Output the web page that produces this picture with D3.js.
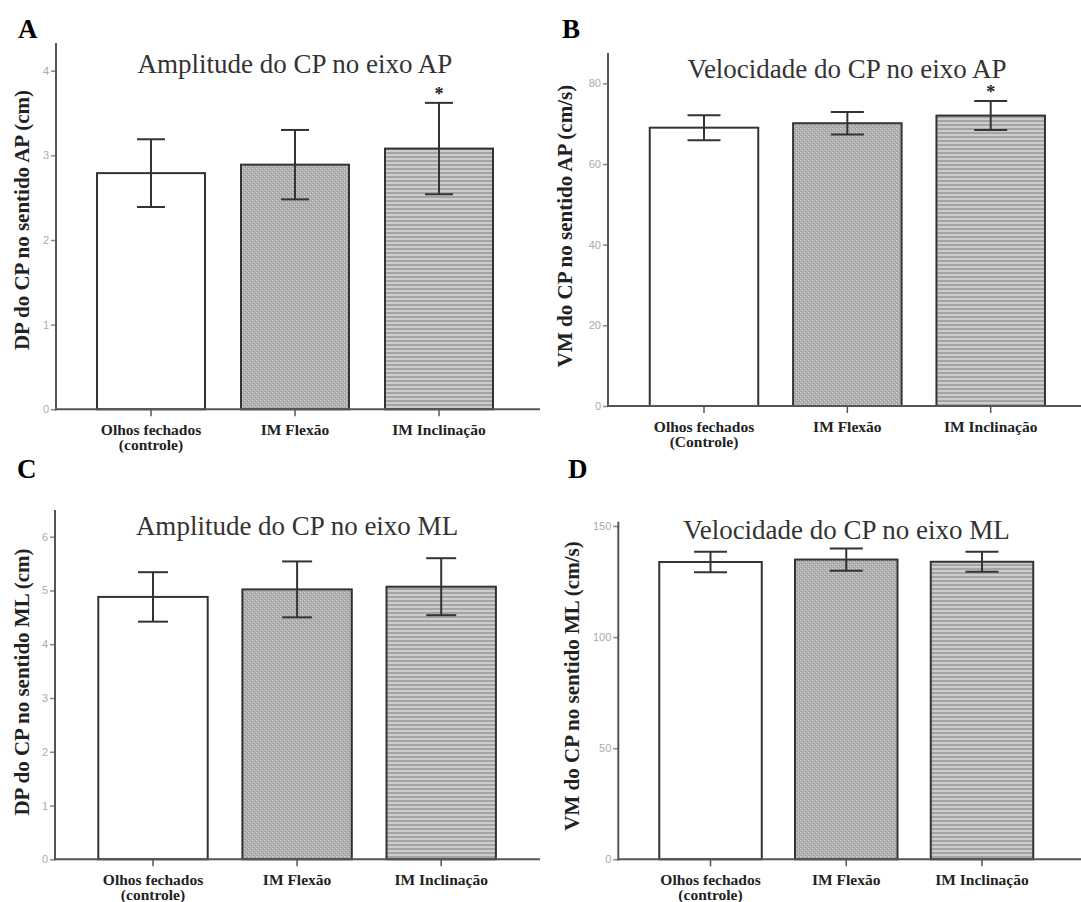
<!DOCTYPE html>
<html>
<head>
<meta charset="utf-8">
<script src="https://cdn.jsdelivr.net/npm/d3@7"></script>
<style>
  html, body { margin: 0; padding: 0; background: #fff; }
  svg { display: block; }
</style>
</head>
<body>
<svg id="fig" width="1081" height="902"></svg>
<script>
// Groups shown on every x axis
const groups = ["Olhos fechados", "IM Flexão", "IM Inclinação"];
const controlNoteA = "(controle)";
const controlNoteB = "(Controle)";

// A: amplitude AP (cm)
const ampAP = [2.79, 2.89, 3.08];
const ampAPsd = [0.40, 0.41, 0.54];
const ampAPticks = [0, 1, 2, 3, 4];
const ampAPsig = [false, false, true];

// B: velocity AP (cm/s)
const velAP = [69.0, 70.1, 72.0];
const velAPsd = [3.1, 2.8, 3.6];
const velAPticks = [0, 20, 40, 60, 80];
const velAPsig = [false, false, true];

// C: amplitude ML (cm)
const ampML = [4.88, 5.02, 5.07];
const ampMLsd = [0.46, 0.52, 0.53];
const ampMLticks = [0, 1, 2, 3, 4, 5, 6];
const ampMLsig = [false, false, false];

// D: velocity ML (cm/s)
const velML = [133.8, 134.9, 133.9];
const velMLsd = [4.6, 5.0, 4.5];
const velMLticks = [0, 50, 100, 150];
const velMLsig = [false, false, false];

const svg = d3.select("#fig");
const defs = svg.append("defs");

// fine dotted grey fill
const dots = defs.append("pattern").attr("id", "dots")
  .attr("patternUnits", "userSpaceOnUse").attr("width", 4).attr("height", 4);
dots.append("rect").attr("width", 4).attr("height", 4).attr("fill", "#b0b0b0");
dots.append("rect").attr("x", 0).attr("y", 0).attr("width", 1).attr("height", 1).attr("fill", "#d4d4d4");
dots.append("rect").attr("x", 2).attr("y", 2).attr("width", 1).attr("height", 1).attr("fill", "#d4d4d4");
dots.append("rect").attr("x", 1).attr("y", 3).attr("width", 1).attr("height", 1).attr("fill", "#949494");
dots.append("rect").attr("x", 3).attr("y", 1).attr("width", 1).attr("height", 1).attr("fill", "#949494");

// horizontal stripe fill
const stripes = defs.append("pattern").attr("id", "stripes")
  .attr("patternUnits", "userSpaceOnUse").attr("width", 8).attr("height", 4);
stripes.append("rect").attr("width", 8).attr("height", 4).attr("fill", "#cdcdcd");
stripes.append("rect").attr("y", 0).attr("width", 8).attr("height", 2).attr("fill", "#a4a4a4");

const fills = ["#ffffff", "url(#dots)", "url(#stripes)"];

const serif = "'Liberation Serif', 'Times New Roman', serif";

function drawPanel(p) {
  const g = svg.append("g");
  const n = groups.length;
  const pi = 1 - p.barW / p.step;
  const x = d3.scaleBand().domain(groups)
    .range([p.c0 - p.step / 2, p.c0 + p.step * (n - 0.5)])
    .paddingInner(pi).paddingOuter(pi / 2);
  const yMax = p.ticks[p.ticks.length - 1];
  const y = d3.scaleLinear().domain([0, yMax]).range([p.y0, p.yTop]);

  // panel letter
  g.append("text").attr("x", p.letterX).attr("y", p.letterY)
    .attr("font-family", serif).attr("font-weight", "bold")
    .attr("font-size", 27).attr("fill", "#000").text(p.letter);

  // title
  g.append("text").attr("x", p.titleX).attr("y", p.titleY)
    .attr("text-anchor", "middle").attr("font-family", serif)
    .attr("font-size", 27).attr("fill", "#333").text(p.title);

  // y axis
  const ya = g.append("g").attr("transform", `translate(${p.ax},0)`)
    .call(d3.axisLeft(y).tickValues(p.ticks).tickSize(5).tickPadding(2).tickFormat(d3.format("d")));
  ya.select(".domain").remove();
  ya.selectAll(".tick line").attr("stroke", "#888").attr("stroke-width", 1.5);
  ya.selectAll(".tick text").attr("fill", "#aaa").attr("font-family", "'Liberation Sans', Arial, sans-serif")
    .attr("font-size", 11);
  g.append("line").attr("x1", p.ax).attr("x2", p.ax).attr("y1", p.axTop).attr("y2", p.y0 + 1)
    .attr("stroke", "#555").attr("stroke-width", 2);

  // bars
  const data = p.values.map((v, i) => ({ k: groups[i], v, sd: p.sd[i], sig: p.sig[i], i }));
  g.selectAll("rect.bar").data(data).join("rect").attr("class", "bar")
    .attr("x", d => x(d.k)).attr("width", x.bandwidth())
    .attr("y", d => y(d.v)).attr("height", d => y(0) - y(d.v))
    .attr("fill", d => fills[d.i]).attr("stroke", "#333").attr("stroke-width", 2);

  // error bars
  const eb = g.selectAll("g.err").data(data).join("g").attr("class", "err")
    .attr("stroke", "#333").attr("stroke-width", 2);
  eb.append("line")
    .attr("x1", d => x(d.k) + x.bandwidth() / 2).attr("x2", d => x(d.k) + x.bandwidth() / 2)
    .attr("y1", d => y(d.v + d.sd)).attr("y2", d => y(d.v - d.sd));
  eb.append("line")
    .attr("x1", d => x(d.k) + x.bandwidth() / 2 - p.cap / 2).attr("x2", d => x(d.k) + x.bandwidth() / 2 + p.cap / 2)
    .attr("y1", d => y(d.v + d.sd)).attr("y2", d => y(d.v + d.sd));
  eb.append("line")
    .attr("x1", d => x(d.k) + x.bandwidth() / 2 - p.cap / 2).attr("x2", d => x(d.k) + x.bandwidth() / 2 + p.cap / 2)
    .attr("y1", d => y(d.v - d.sd)).attr("y2", d => y(d.v - d.sd));

  // significance marks
  g.selectAll("text.sig").data(data.filter(d => d.sig)).join("text").attr("class", "sig")
    .attr("x", d => x(d.k) + x.bandwidth() / 2).attr("y", d => y(d.v + d.sd) - 3)
    .attr("text-anchor", "middle").attr("font-family", serif).attr("font-weight", "bold")
    .attr("font-size", 18).attr("fill", "#222").text("*");

  // x axis
  const xa = g.append("g").attr("transform", `translate(0,${p.y0})`)
    .call(d3.axisBottom(x).tickSize(7).tickFormat(""));
  xa.select(".domain").remove();
  xa.selectAll(".tick line").attr("stroke", "#555").attr("stroke-width", 1.5);
  g.append("line").attr("x1", p.ax - 1).attr("x2", p.axRight).attr("y1", p.y0).attr("y2", p.y0)
    .attr("stroke", "#555").attr("stroke-width", 2);

  // category labels
  const lab = g.selectAll("text.cat").data(groups).join("text").attr("class", "cat")
    .attr("x", d => x(d) + x.bandwidth() / 2).attr("y", p.y0 + 26)
    .attr("text-anchor", "middle").attr("font-family", serif).attr("font-weight", "bold")
    .attr("font-size", 15.5).attr("fill", "#222");
  lab.append("tspan").text(d => d);
  lab.filter((d, i) => i === 0).append("tspan")
    .attr("x", d => x(d) + x.bandwidth() / 2).attr("dy", 15).text(p.note);

  // y axis title
  g.append("text").attr("transform", `translate(${p.ylabX},${p.ylabY}) rotate(-90)`)
    .attr("text-anchor", "middle").attr("dominant-baseline", "central")
    .attr("font-family", serif).attr("font-weight", "bold").attr("font-size", 21)
    .attr("fill", "#222").text(p.ylab);
}

drawPanel({
  letter: "A", letterX: 18, letterY: 38,
  title: "Amplitude do CP no eixo AP", titleX: 295, titleY: 73,
  ylab: "DP do CP no sentido AP (cm)", ylabX: 22, ylabY: 220,
  values: ampAP, sd: ampAPsd, ticks: ampAPticks, sig: ampAPsig, note: controlNoteA,
  ax: 56, axTop: 43, axRight: 540, y0: 409.3, yTop: 70.7,
  c0: 151, step: 144, barW: 108, cap: 28
});

drawPanel({
  letter: "B", letterX: 562, letterY: 38,
  title: "Velocidade do CP no eixo AP", titleX: 847, titleY: 78,
  ylab: "VM do CP no sentido AP (cm/s)", ylabX: 565, ylabY: 226,
  values: velAP, sd: velAPsd, ticks: velAPticks, sig: velAPsig, note: controlNoteB,
  ax: 608, axTop: 53, axRight: 1081, y0: 406, yTop: 83.3,
  c0: 704, step: 143.35, barW: 108.5, cap: 33
});

drawPanel({
  letter: "C", letterX: 17, letterY: 478,
  title: "Amplitude do CP no eixo ML", titleX: 297, titleY: 535,
  ylab: "DP do CP no sentido ML (cm)", ylabX: 22, ylabY: 682,
  values: ampML, sd: ampMLsd, ticks: ampMLticks, sig: ampMLsig, note: controlNoteA,
  ax: 55, axTop: 510, axRight: 540, y0: 859.3, yTop: 536.7,
  c0: 153, step: 144.1, barW: 109.4, cap: 30
});

drawPanel({
  letter: "D", letterX: 568, letterY: 478,
  title: "Velocidade do CP no eixo ML", titleX: 846.5, titleY: 539,
  ylab: "VM do CP no sentido ML (cm/s)", ylabX: 572, ylabY: 686,
  values: velML, sd: velMLsd, ticks: velMLticks, sig: velMLsig, note: controlNoteA,
  ax: 618.3, axTop: 521.7, axRight: 1081, y0: 859.3, yTop: 526,
  c0: 710.5, step: 135.75, barW: 102.5, cap: 33
});
</script>
</body>
</html>
